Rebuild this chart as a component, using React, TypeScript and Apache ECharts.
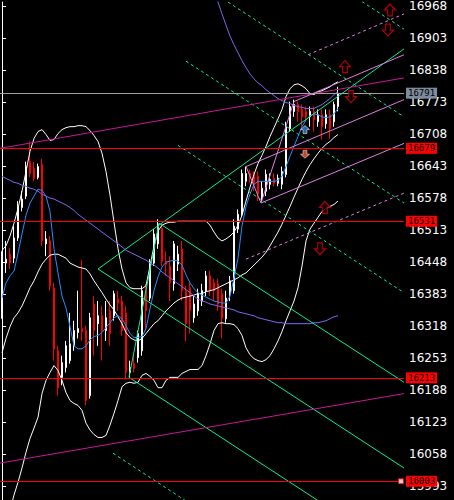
import React, { useEffect, useRef } from "react";
import * as echarts from "echarts";

const SLOTS = 101;

const opens = [16349,16446,16464,16456,16497,16559,16582,16652,16638,16620,16646,16485,16491,16396,16268,16214,16234,16248,16278,16305,16313,16309,16177,16363,16323,16339,16309,16349,16339,16373,16369,16345,16224,16242,16254,16268,16396,16375,16446,16485,16517,16450,16440,16404,16444,16475,16390,16396,16335,16349,16369,16390,16420,16406,16404,16384,16333,16384,16390,16515,16545,16612,16628,16626,16622,16578,16592,16606,16618,16608,16606,16626,16719,16754,16768,16758,16754,16743,16754,16733,16747,16729,16747,16733,16764];
const closes = [16460,16454,16446,16497,16561,16576,16642,16628,16618,16642,16491,16495,16400,16272,16193,16244,16278,16282,16309,16313,16307,16167,16335,16309,16339,16309,16335,16303,16384,16365,16309,16224,16234,16232,16303,16390,16349,16446,16505,16525,16450,16444,16406,16485,16464,16390,16323,16349,16363,16384,16390,16420,16390,16390,16363,16333,16375,16410,16521,16545,16628,16628,16618,16606,16586,16598,16626,16616,16608,16618,16632,16723,16764,16768,16754,16743,16743,16754,16737,16747,16723,16747,16719,16768,16790];
const lows = [16333,16426,16434,16446,16491,16551,16576,16620,16612,16616,16481,16460,16390,16248,16177,16198,16224,16242,16268,16293,16288,16157,16171,16258,16278,16248,16288,16278,16329,16349,16299,16212,16212,16224,16244,16258,16309,16369,16440,16475,16440,16420,16369,16390,16430,16369,16288,16303,16325,16339,16359,16379,16379,16369,16349,16293,16325,16369,16384,16507,16541,16602,16608,16592,16572,16572,16582,16596,16602,16602,16596,16620,16713,16743,16733,16723,16733,16723,16713,16723,16697,16719,16699,16723,16754];
const highs = [16470,16491,16477,16521,16572,16592,16652,16693,16652,16648,16658,16511,16501,16406,16278,16258,16288,16345,16329,16390,16452,16319,16345,16379,16369,16359,16369,16369,16390,16390,16379,16359,16248,16258,16309,16400,16404,16454,16515,16535,16527,16470,16460,16491,16481,16491,16400,16410,16379,16394,16404,16430,16430,16414,16414,16394,16390,16420,16535,16555,16636,16642,16636,16632,16632,16612,16636,16628,16628,16626,16642,16733,16774,16778,16774,16768,16764,16764,16764,16758,16758,16758,16758,16774,16804];

const bbUpper = [16472,16481,16501,16527,16557,16592,16632,16673,16699,16713,16717,16707,16695,16697,16709,16717,16721,16723,16723,16725,16725,16723,16715,16705,16693,16669,16632,16584,16529,16475,16434,16406,16396,16394,16394,16394,16400,16440,16481,16511,16523,16527,16529,16529,16531,16531,16531,16531,16531,16531,16531,16531,16523,16509,16497,16491,16495,16501,16509,16523,16543,16572,16600,16626,16648,16665,16683,16703,16721,16739,16758,16784,16800,16808,16810,16806,16800,16790,16788,16794,16796,16800,16804,16810,16814];
const bbMiddle = [16264,16293,16317,16335,16345,16359,16377,16396,16410,16428,16444,16454,16462,16464,16464,16460,16456,16446,16442,16438,16436,16434,16424,16410,16398,16386,16373,16361,16351,16337,16323,16305,16295,16290,16288,16293,16303,16313,16323,16329,16339,16349,16357,16365,16371,16375,16377,16379,16381,16384,16384,16388,16390,16392,16396,16400,16404,16408,16412,16416,16422,16426,16434,16442,16450,16458,16468,16481,16495,16509,16525,16543,16561,16580,16598,16616,16632,16646,16658,16669,16679,16687,16693,16701,16707];
const bbLower = [15884,15914,15945,15975,16001,16030,16062,16090,16111,16133,16181,16208,16224,16238,16228,16208,16183,16167,16161,16157,16147,16121,16107,16098,16092,16092,16096,16117,16141,16167,16195,16202,16204,16202,16204,16218,16222,16216,16208,16193,16193,16208,16214,16214,16214,16222,16226,16230,16230,16230,16238,16258,16282,16309,16323,16325,16323,16323,16321,16313,16299,16274,16260,16252,16248,16246,16250,16258,16272,16288,16307,16329,16349,16369,16396,16440,16491,16515,16527,16539,16551,16557,16561,16565,16572];
const maFast = [16375,16406,16420,16430,16466,16505,16543,16568,16582,16596,16594,16582,16551,16475,16426,16379,16355,16317,16278,16272,16272,16278,16290,16297,16299,16305,16315,16325,16335,16339,16333,16319,16303,16295,16295,16297,16313,16353,16390,16418,16438,16448,16450,16452,16450,16442,16422,16406,16394,16386,16381,16377,16373,16369,16367,16365,16365,16379,16416,16456,16521,16561,16586,16606,16612,16612,16612,16612,16612,16614,16622,16642,16663,16683,16703,16723,16737,16745,16749,16747,16743,16741,16743,16749,16760];
const maSlow = [16622,16618,16614,16610,16608,16604,16602,16598,16596,16592,16586,16582,16578,16576,16572,16568,16564,16559,16553,16545,16539,16533,16527,16521,16515,16509,16503,16497,16491,16485,16479,16472,16468,16464,16460,16456,16452,16446,16442,16436,16428,16422,16416,16410,16404,16398,16392,16386,16379,16373,16369,16367,16363,16361,16359,16357,16355,16353,16351,16347,16345,16343,16341,16339,16335,16333,16331,16329,16327,16325,16325,16323,16323,16323,16323,16323,16323,16323,16325,16325,16327,16329,16333,16337,16339];
const slowUpperTail = [17027,17000,16976,16952,16929,16907,16889,16873,16857,16843,16830,16820,16812,16806,16798,16792,16786,16780,16776,16772,16770,16766,16764,16762,16760,16760,16760,16764,16768,16774,16780,16788,16794];
const slowUpperStart = 52;

const yTicks = [16968,16903,16838,16773,16708,16643,16578,16513,16448,16383,16318,16253,16188,16123,16058,15993];
const redLevels = [16679, 16531, 16213, 16003];
const greyLevel = 16791;

const greenSolid = [
  [[24, 16434], [100.5, 16881]],
  [[24, 16434], [100.5, 16030]],
  [[39.25, 16527], [100.5, 16204]],
  [[31.75, 16214], [100.5, 15850]],
  [[31.75, 16214], [39.25, 16527]],
];
const greenDashed = [
  [[90, 16977], [100.5, 16921]],
  [[56.5, 16976], [100.5, 16743]],
  [[46, 16856], [100.5, 16568]],
  [[44, 16685], [100.5, 16386]],
  [[27.75, 16060], [46, 15963]],
];
const magentaSolid = [
  [[-0.5, 16679], [100.5, 16822]],
  [[-0.5, 16040], [100.5, 16181]],
];
const orchidSolid = [
  [[64.75, 16568], [100.5, 16689]],
  [[61, 16642], [100.5, 16778]],
  [[73, 16774], [100.5, 16869]],
  [[64.75, 16568], [73, 16774]],
  [[61, 16642], [64.75, 16568]],
];
const orchidDashed = [
  [[76.5, 16869], [100.5, 16952]],
  [[61, 16454], [100.5, 16588]],
];

const hollowUp = [[97, 16960], [85.75, 16845], [80.75, 16559]];
const hollowDown = [[96.5, 16919], [87.25, 16784], [79.5, 16475]];
const filledUp = [[75.75, 16717]];
const filledDown = [[75.75, 16667]];
const endSquare = [[99.75, 16003]];

const UP = "path://M6,0 L12,6 L8.5,6 L8.5,12 L3.5,12 L3.5,6 L0,6 Z";
const DOWN = "path://M3.5,0 L8.5,0 L8.5,6 L12,6 L6,12 L0,6 L3.5,6 Z";

export default function App() {
  const ref = useRef<HTMLDivElement>(null);
  useEffect(() => {
    if (!ref.current) return;
    const chart = echarts.init(ref.current, undefined, { renderer: "svg" });
    const candles = opens.map((o, i) => [o, closes[i], lows[i], highs[i]]);
    const cats = Array.from({ length: SLOTS }, (_, i) => String(i));
    const slowUpper: (number | null)[] = opens.map((_, i) =>
      i >= slowUpperStart ? slowUpperTail[i - slowUpperStart] : null
    );

    const ind = (data: any[], color: string) => ({
      type: "line",
      data,
      symbol: "none",
      silent: true,
      z: 3,
      lineStyle: { color, width: 1 },
      emphasis: { disabled: true },
    });
    const seg = (pts: any, color: string, dashed: boolean) => ({
      type: "line",
      xAxisIndex: 1,
      yAxisIndex: 0,
      data: pts,
      symbol: "none",
      silent: true,
      z: 3,
      lineStyle: { color, width: 1, type: dashed ? [3, 3] : "solid" },
      emphasis: { disabled: true },
    });
    const arrows = (data: any, symbol: string, size: number[], style: any) => ({
      type: "scatter",
      xAxisIndex: 1,
      yAxisIndex: 0,
      data,
      symbol,
      symbolSize: size,
      silent: true,
      z: 6,
      itemStyle: style,
      emphasis: { disabled: true },
    });

    const tag = (v: number, bg: string) => ({
      show: true,
      position: "end",
      formatter: String(v),
      color: "#000",
      backgroundColor: bg,
      fontFamily: "DejaVu Sans Mono",
      fontSize: 9,
      lineHeight: 10,
      padding: [1, 2, 0, 2],
      distance: 2,
    });

    const series: any[] = [
      ind(bbUpper, "#ffffff"),
      ind(bbMiddle, "#ffffff"),
      ind(bbLower, "#ffffff"),
      ind(maSlow, "#7b68ee"),
      ind(slowUpper, "#7b68ee"),
      ind(maFast, "#1e90ff"),
      {
        type: "candlestick",
        data: candles,
        barWidth: 2,
        z: 2,
        silent: true,
        itemStyle: {
          color: "#ffffff",
          color0: "#ff0000",
          borderColor: "#ffffff",
          borderColor0: "#ff0000",
          borderWidth: 1,
        },
        markLine: {
          symbol: ["none", "none"],
          silent: true,
          animation: false,
          z: 5,
          data: [
            ...redLevels.map((v) => ({
              yAxis: v,
              lineStyle: { color: "#ff0000", width: 1, type: "solid" },
              label: tag(v, "#ff0000"),
            })),
            {
              yAxis: greyLevel,
              lineStyle: { color: "#a0a0a0", width: 1, type: "solid" },
              label: tag(greyLevel, "#7d8c9c"),
            },
          ],
        },
      },
      ...greenSolid.map((p) => seg(p, "#00f090", false)),
      ...greenDashed.map((p) => seg(p, "#00f090", true)),
      ...magentaSolid.map((p) => seg(p, "#c8189a", false)),
      ...orchidSolid.map((p) => seg(p, "#e07ee0", false)),
      ...orchidDashed.map((p) => seg(p, "#e07ee0", true)),
      arrows(hollowUp, UP, [11, 12], { color: "#000", borderColor: "#e00000", borderWidth: 1.2 }),
      arrows(hollowDown, DOWN, [11, 12], { color: "#000", borderColor: "#e00000", borderWidth: 1.2 }),
      arrows(filledUp, UP, [9, 8], { color: "#3a7fc0", borderColor: "#d8e8ff", borderWidth: 0.8 }),
      arrows(filledDown, DOWN, [9, 8], { color: "#e8603a", borderColor: "#ffd8c8", borderWidth: 0.8 }),
      arrows(endSquare, "rect", [5, 5], { color: "#ffffff", borderColor: "#ff0000", borderWidth: 1 }),
    ];

    chart.setOption({
      animation: false,
      backgroundColor: "#000000",
      grid: { left: 0, right: 50, top: 0, bottom: 0 },
      xAxis: [
        { type: "category", data: cats, show: false, boundaryGap: true },
        { type: "value", min: -0.5, max: SLOTS - 0.5, show: false },
      ],
      yAxis: {
        type: "value",
        position: "right",
        min: 15965,
        max: 16976,
        splitLine: { show: false },
        axisLine: { show: true, lineStyle: { color: "#ffffff", width: 1 } },
        axisTick: {
          show: true,
          customValues: yTicks,
          length: 4,
          lineStyle: { color: "#ffffff" },
        },
        axisLabel: {
          customValues: yTicks,
          color: "#ffffff",
          fontSize: 12,
          fontFamily: "DejaVu Sans",
          margin: 5,
          formatter: (v: number) => String(v),
        },
      },
      series,
    });
    return () => chart.dispose();
  }, []);
  return (
    <div
      ref={ref}
      style={{ position: "absolute", left: 0, top: 0, width: 454, height: 500, background: "#000" }}
    />
  );
}
